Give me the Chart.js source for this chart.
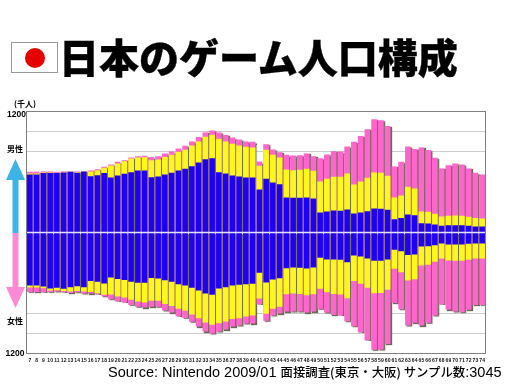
<!DOCTYPE html>
<html>
<head>
<meta charset="utf-8">
<script src="https://cdn.jsdelivr.net/npm/chart.js@4"></script>
<style>
	html, body { margin: 0; padding: 0; background: #fff; }
	#wrap { position: relative; width: 512px; height: 384px; overflow: hidden; }
	#chart { position: absolute; left: 0; top: 0; }
	.txt { position: absolute; white-space: nowrap; color: #000; font-family: "Noto Sans CJK JP", sans-serif; }
	#flag { position: absolute; left: 11px; top: 42px; width: 47px; height: 31px; border: 1px solid #999; box-sizing: border-box; background: #fff; }
	#flag div { position: absolute; left: 13px; top: 5px; width: 20px; height: 20px; border-radius: 50%; background: #e60000; }
	#title { left: 59px; top: 27px; font-size: 40px; line-height: 58px; font-weight: 900; -webkit-text-stroke: 0.4px #000; }
	#source { left: 108px; top: 362px; font-size: 14.5px; line-height: 20px; font-family: "Liberation Sans", sans-serif; }
	#source span { font-family: "Noto Sans CJK JP", sans-serif; font-size: 12.4px; font-weight: 500; }
	.small { font-size: 8px; line-height: 10px; font-weight: 700; }
</style>
</head>
<body>
<div id="wrap">
	<canvas id="chart" width="512" height="384"></canvas>
	<div id="flag"><div></div></div>
	<div class="txt" id="title">日本のゲーム人口構成</div>
	<div class="txt small" style="left:14px;top:99px">(千人)</div>
	<div class="txt small" style="left:7px;top:144px">男性</div>
	<div class="txt small" style="left:7px;top:316px">女性</div>
	<div class="txt small" style="left:7px;top:109px;font-family:'Liberation Sans';font-size:8.5px">1200</div>
	<svg style="position:absolute;left:0;top:0" width="40" height="384">
		<polygon points="15.5,159 25,180 18.5,180 18.5,233 12.5,233 12.5,180 6,180" fill="#3cb4e6"/>
		<polygon points="12.5,233 18.5,233 18.5,287 25,287 15.5,308 6,287 12.5,287" fill="#ff8ad4"/>
	</svg>
	<div class="txt" id="source">Source: Nintendo 2009/01 <span>面接調査(東京・大阪) サンプル数</span>:3045</div>
</div>
<script>
const ages = [7, 8, 9, 10, 11, 12, 13, 14, 15, 16, 17, 18, 19, 20, 21, 22, 23, 24, 25, 26, 27, 28, 29, 30, 31, 32, 33, 34, 35, 36, 37, 38, 39, 40, 41, 42, 43, 44, 45, 46, 47, 48, 49, 50, 51, 52, 53, 54, 55, 56, 57, 58, 59, 60, 61, 62, 63, 64, 65, 66, 67, 68, 69, 70, 71, 72, 73, 74];

// running totals per age, blue then blue+yellow then blue+yellow+pink
const maleBlue = [575, 575, 589, 589, 589, 595, 602, 592, 605, 559, 569, 589, 545, 565, 582, 598, 615, 615, 549, 555, 575, 592, 615, 631, 658, 694, 727, 737, 598, 585, 565, 555, 545, 545, 426, 532, 496, 479, 347, 344, 344, 347, 337, 198, 208, 218, 215, 228, 188, 198, 211, 238, 235, 225, 132, 145, 178, 172, 92, 89, 79, 66, 73, 73, 73, 66, 59, 59];
const maleYellow = [585, 585, 595, 595, 592, 598, 602, 598, 608, 605, 618, 641, 665, 684, 707, 734, 744, 747, 717, 724, 750, 770, 800, 820, 863, 903, 949, 969, 929, 903, 879, 863, 850, 843, 661, 820, 770, 744, 625, 618, 622, 631, 612, 506, 532, 552, 552, 585, 476, 506, 542, 595, 592, 562, 347, 367, 453, 436, 208, 205, 185, 159, 165, 169, 165, 155, 145, 139];
const malePink = [602, 602, 605, 605, 602, 605, 605, 605, 611, 615, 628, 651, 675, 701, 717, 744, 757, 760, 750, 757, 783, 803, 833, 860, 903, 946, 992, 1012, 992, 966, 942, 922, 903, 899, 704, 876, 823, 797, 770, 764, 767, 784, 757, 737, 774, 807, 803, 853, 899, 956, 1025, 1124, 1114, 1055, 655, 701, 853, 827, 843, 817, 741, 635, 668, 684, 674, 635, 592, 575];
const femaleBlue = [526, 526, 536, 556, 549, 559, 542, 532, 542, 480, 489, 506, 446, 460, 470, 489, 499, 499, 450, 456, 473, 489, 513, 526, 549, 575, 605, 618, 556, 542, 526, 519, 513, 509, 400, 496, 466, 453, 354, 347, 350, 357, 347, 251, 268, 268, 271, 294, 228, 238, 258, 281, 281, 268, 172, 185, 222, 218, 139, 136, 126, 109, 119, 119, 119, 112, 109, 109];
const femaleYellow = [546, 546, 552, 575, 572, 579, 585, 579, 585, 589, 602, 618, 615, 635, 645, 668, 684, 694, 678, 678, 708, 728, 757, 777, 814, 850, 893, 916, 900, 883, 857, 850, 833, 823, 655, 807, 757, 737, 612, 605, 609, 622, 612, 559, 592, 609, 615, 652, 480, 509, 549, 602, 599, 569, 360, 393, 476, 463, 327, 321, 291, 258, 278, 281, 281, 271, 258, 258];
const femalePink = [589, 589, 592, 589, 585, 592, 599, 592, 605, 605, 612, 632, 661, 681, 694, 718, 737, 744, 737, 737, 774, 794, 830, 847, 886, 933, 982, 1002, 982, 962, 933, 923, 903, 903, 711, 876, 823, 804, 784, 784, 784, 794, 784, 757, 794, 817, 823, 880, 929, 989, 1068, 1164, 1161, 1105, 698, 761, 923, 896, 923, 896, 823, 714, 764, 784, 790, 767, 718, 718];

const BLUE = "#2000f5";
const YELLOW = "#fcf81c";
const PINK = "#ff66cc";

function neg(list) {
	return list.map((v) => -v);
}

function barSet(label, data, color) {
	return { label, data, backgroundColor: color, categoryPercentage: 1, barPercentage: 0.84 };
}

// drop shadow behind the bars, only from the pink (back) datasets
const barShadow = {
	id: "barShadow",
	beforeDatasetDraw(chart, args) {
		if (args.index < 4) return;
		const ctx = chart.ctx;
		ctx.save();
		ctx.shadowColor = "rgb(105,105,85)";
		ctx.shadowOffsetX = 1.5;
		ctx.shadowOffsetY = 1;
		ctx.shadowBlur = 1;
	},
	afterDatasetDraw(chart, args) {
		if (args.index < 4) return;
		chart.ctx.restore();
	},
};

// zero line on top of the bars and grey frame
const frame = {
	id: "frame",
	afterDatasetsDraw(chart) {
		const ctx = chart.ctx;
		const a = chart.chartArea;
		const y0 = chart.scales.y.getPixelForValue(0);
		ctx.save();
		ctx.strokeStyle = "#e6e0ff";
		ctx.lineWidth = 1.5;
		ctx.beginPath();
		ctx.moveTo(a.left, y0);
		ctx.lineTo(a.right, y0);
		ctx.stroke();
		ctx.strokeStyle = "#808080";
		ctx.lineWidth = 1;
		ctx.strokeRect(a.left, a.top, a.right - a.left, a.bottom - a.top);
		ctx.restore();
	},
};

new Chart(document.getElementById("chart"), {
	type: "bar",
	data: {
		labels: ages,
		datasets: [
			barSet("男性 blue", maleBlue, BLUE),
			barSet("女性 blue", neg(femaleBlue), BLUE),
			barSet("男性 yellow", maleYellow, YELLOW),
			barSet("女性 yellow", neg(femaleYellow), YELLOW),
			barSet("男性 pink", malePink, PINK),
			barSet("女性 pink", neg(femalePink), PINK),
		],
	},
	options: {
		responsive: false,
		animation: false,
		layout: { padding: { top: 111.5, right: 26.5, left: 0, bottom: 0 } },
		plugins: { legend: { display: false }, tooltip: { enabled: false } },
		scales: {
			x: {
				stacked: true,
				grid: { display: false, drawTicks: false },
				border: { display: false },
				afterFit: (s) => { s.height = 30.5; },
				ticks: {
					autoSkip: false,
					maxRotation: 0,
					padding: 4,
					color: "#111",
					font: { family: "Liberation Sans", size: 5, weight: "bold" },
				},
			},
			y: {
				stacked: false,
				min: -1200,
				max: 1200,
				border: { display: false },
				afterFit: (s) => { s.width = 26.5; },
				grid: {
					drawTicks: false,
					color: (c) => (Math.abs(c.tick.value) >= 800 ? "#cccccc" : "transparent"),
				},
				ticks: {
					stepSize: 200,
					padding: 2,
					color: "#000",
					font: { family: "Liberation Sans", size: 8.5, weight: "bold" },
					callback: (v) => (v === -1200 ? "1200" : ""),
				},
			},
		},
	},
	plugins: [barShadow, frame],
});
</script>
</body>
</html>
